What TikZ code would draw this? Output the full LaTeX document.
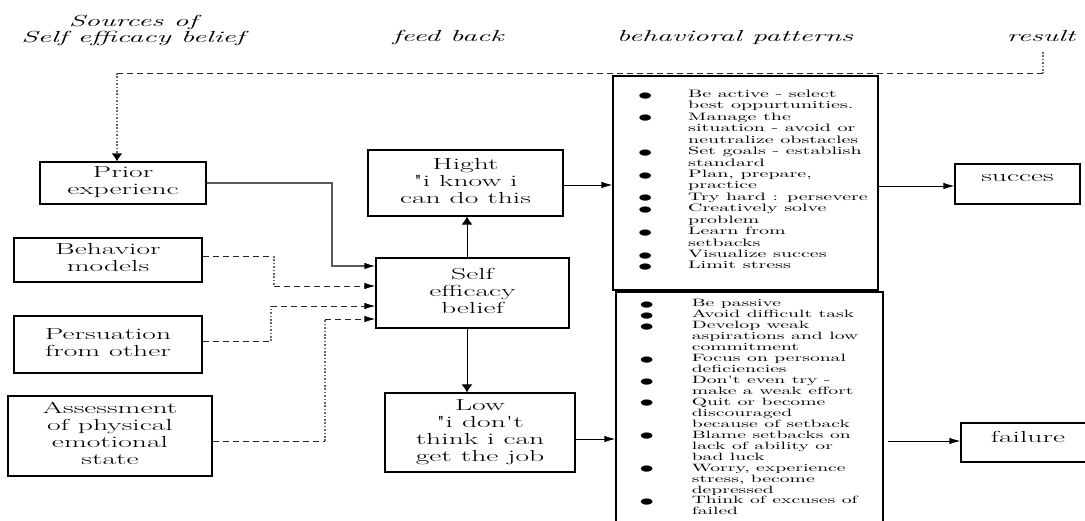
\documentclass[tikz,border=0pt]{standalone}
\usetikzlibrary{arrows.meta}
\newcommand\sx[1]{\scalebox{1.85}[1]{#1}}
\newcommand\cl[1]{\sx{\begin{tabular}{@{}c@{}}#1\end{tabular}}}
\newcommand\bigbul{\smash{\raisebox{-5.6pt}{\fontsize{28}{28}\selectfont\textbullet}}}
\newcommand\bulA{\makebox[46.5pt][c]{\bigbul}}
\newcommand\bulB{\makebox[48.6pt][c]{\bigbul}}
\begin{document}
\begin{tikzpicture}[x=1pt,y=-1pt,
  box/.style={draw, line width=1.2pt, inner sep=0pt, font=\fontsize{16}{17}\selectfont},
  hdr/.style={inner sep=0pt, font=\itshape\fontsize{16}{16}\selectfont},
  conn/.style={line width=0.9pt},
  dsh/.style={conn, dash pattern=on 6pt off 4pt, black!85},
  dot/.style={line width=1.4pt, dash pattern=on 1.6pt off 1.8pt, black!60},
  arrh/.style={-{Latex[length=11pt,width=6.5pt,color=black]}},
  arrv/.style={-{Latex[length=8pt,width=11pt,color=black]}},
  lstA/.style={inner sep=0pt, anchor=base west, font=\fontsize{10.8}{11.43}\selectfont},
  lstB/.style={inner sep=0pt, anchor=base west, font=\fontsize{10.6}{10.96}\selectfont},
]
\useasboundingbox (0,0) rectangle (1085,521);
\clip (0,0) rectangle (1085,521);

% headers
\node[hdr, anchor=north] (hsrc) at (133,15) {\cl{Sources of\\Self efficacy belief}};
\node[hdr, anchor=base] (hfb) at (448,42) {\sx{feed back}};
\node[hdr, anchor=base] (hbp) at (735,42) {\sx{behavioral patterns}};
\node[hdr, anchor=base] (hres) at (1041,42) {\sx{result}};

% source boxes
\node[box, minimum width=166pt, minimum height=42pt] (prior) at (123,183) {\cl{Prior\\experienc}};
\node[box, minimum width=188pt, minimum height=44pt] (behav) at (108,260) {\cl{Behavior\\models}};
\node[box, minimum width=188pt, minimum height=57pt] (pers) at (108,344.5) {\cl{Persuation\\from other}};
\node[box, minimum width=204pt, minimum height=80pt] (assess) at (110,436) {\cl{Assessment\\of physical\\emotional\\state}};

% central boxes
\node[box, minimum width=195pt, minimum height=66pt] (hight) at (465.5,183) {\cl{Hight\\\textquotedbl i know i\\can do this}};
\node[box, minimum width=193pt, minimum height=70pt] (self) at (472.5,293) {\cl{Self\\efficacy\\belief}};
\node[box, minimum width=190pt, minimum height=79pt] (low) at (480,432.5) {\cl{Low\\\textquotedbl i don\textquotesingle t\\think i can\\get the job}};

% list boxes
\node[draw, line width=1.2pt, inner sep=0pt, minimum width=265pt, minimum height=214pt] (top) at (745.5,183) {};
\node[draw, line width=1.2pt, inner sep=0pt, minimum width=267pt, minimum height=248pt] (bot) at (749.5,416) {};

\node[lstA] (toptxt) at (602,97.5) {\sx{\begin{tabular}[t]{@{}l@{}l@{}}
\bulA & Be active - select\\
 & best oppurtunities.\\
\bulA & Manage the\\
 & situation - avoid or\\
 & neutralize obstacles\\
\bulA & Set goals - establish\\
 & standard\\
\bulA & Plan, prepare,\\
 & practice\\
\bulA & Try hard : persevere\\
\bulA & Creatively solve\\
 & problem\\
\bulA & Learn from\\
 & setbacks\\
\bulA & Visualize succes\\
\bulA & Limit stress
\end{tabular}}};

\node[lstB] (bottxt) at (601.7,306.7) {\sx{\begin{tabular}[t]{@{}l@{}l@{}}
\bulB & Be passive\\
\bulB & Avoid difficult task\\
\bulB & Develop weak\\
 & aspirations and low\\
 & commitment\\
\bulB & Focus on personal\\
 & deficiencies\\
\bulB & Don\textquotesingle t even try -\\
 & make a weak effort\\
\bulB & Quit or become\\
 & discouraged\\
 & because of setback\\
\bulB & Blame setbacks on\\
 & lack of ability or\\
 & bad luck\\
\bulB & Worry, experience\\
 & stress, become\\
 & depressed\\
\bulB & Think of excuses of\\
 & failed
\end{tabular}}};

% result boxes
\node[box, minimum width=125pt, minimum height=40pt, text depth=12pt] (succ) at (1017.5,184) {\sx{succes}};
\node[box, minimum width=134pt, minimum height=39pt, text depth=12pt] (fail) at (1028,442.5) {\sx{failure}};

% feedback loop
\coordinate (fbA) at (1043,52);
\coordinate (fbB) at (1043,73);
\coordinate (fbC) at (117,73);
\draw[dot] (fbA) -- (fbB);
\draw[dsh] (fbB) -- (fbC);
\draw[dot, arrv] (fbC) -- (fbC |- prior.north);

% prior experience
\coordinate (r1) at (332,183);
\coordinate (r2) at (332,266);
\draw[line width=1.3pt, black!65, arrh] (prior.east |- r1) -- (r1) -- (r2) -- (self.west |- r2);

% behavior models
\coordinate (b1) at (274,256);
\coordinate (b2) at (274,286);
\draw[dsh] (behav.east |- b1) -- (b1);
\draw[dot] (b1) -- (b2);
\draw[dsh, arrh] (b2) -- (self.west |- b2);

% persuation
\coordinate (p1) at (271,341);
\coordinate (p2) at (271,306);
\draw[dsh] (pers.east |- p1) -- (p1);
\draw[dot] (p1) -- (p2);
\draw[dsh, arrh] (p2) -- (self.west |- p2);

% assessment
\coordinate (a1) at (325,441);
\coordinate (a2) at (325,319);
\draw[dsh] (assess.east |- a1) -- (a1);
\draw[dot] (a1) -- (a2);
\draw[dsh, arrh] (a2) -- (self.west |- a2);

% self efficacy to high / low
\coordinate (vx) at (467,0);
\draw[conn, arrv] (self.north -| vx) -- (hight.south -| vx);
\draw[conn, arrv] (self.south -| vx) -- (low.north -| vx);

% to behaviour lists
\coordinate (h1) at (600,185);
\draw[conn, arrh] (hight.east |- h1) -- (top.west |- h1);
\coordinate (l1) at (600,439);
\draw[conn, arrh] (low.east |- l1) -- (bot.west |- l1);

% to results
\coordinate (s1) at (900,186);
\draw[conn, arrh] (top.east |- s1) -- (succ.west |- s1);
\coordinate (f1) at (900,441);
\draw[conn, arrh, shorten <=4pt] (bot.east |- f1) -- (fail.west |- f1);
\end{tikzpicture}
\end{document}
